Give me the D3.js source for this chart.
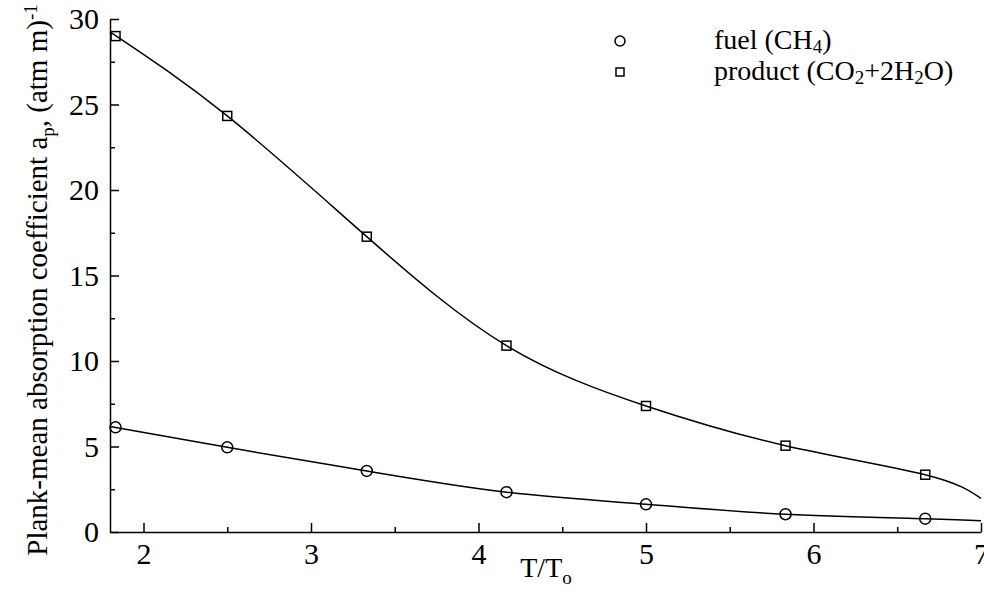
<!DOCTYPE html>
<html><head><meta charset="utf-8">
<script src="https://cdn.jsdelivr.net/npm/d3@7"></script>
<style>
body{margin:0;background:#fff;}
svg text{font-family:"Liberation Serif","Times New Roman",serif;fill:#000;}
</style></head>
<body><svg id="c" width="984" height="592"></svg>
<script>
// data
const ratioT = [1.833, 2.5, 3.333, 4.167, 5, 5.833, 6.667];
const productData = [29.0, 24.33, 17.27, 10.9, 7.37, 5.05, 3.35];
const fuelData = [6.12, 4.95, 3.57, 2.33, 1.62, 1.04, 0.78];
// fitted curve knots
const curveX = [1.8, 2.5, 3.333, 4.167, 5, 5.833, 6.667, 7];
const productCurve = [29.25, 24.33, 17.27, 10.9, 7.37, 5.05, 3.35, 1.97];
const fuelCurve = [6.17, 4.95, 3.57, 2.33, 1.62, 1.04, 0.78, 0.66];
const xTicks = [2, 3, 4, 5, 6, 7];
const xMinor = [2.5, 3.5, 4.5, 5.5, 6.5];
const yTicks = [0, 5, 10, 15, 20, 25, 30];
const yMinor = [2.5, 7.5, 12.5, 17.5, 22.5, 27.5];

const svg = d3.select("#c");
const x = d3.scaleLinear().domain([1.8, 7]).range([110, 981]);
const y = d3.scaleLinear().domain([0, 30]).range([532, 19]);

const fs = 28, tfs = 30, sfs = 19;
const serif = "Liberation Serif";
// x axis
const gx = svg.append("g").attr("transform", `translate(0,${y(0)})`);
gx.call(d3.axisBottom(x).tickValues(xTicks).tickSizeInner(-9).tickSizeOuter(0).tickPadding(11).tickFormat(d3.format("d")));
svg.append("g").attr("transform", `translate(0,${y(0)})`)
  .call(d3.axisBottom(x).tickValues(xMinor).tickSizeInner(-5).tickSizeOuter(0).tickFormat(""))
  .select(".domain").remove();
// y axis
const gy = svg.append("g").attr("transform", `translate(${x(1.8)},0)`);
gy.call(d3.axisLeft(y).tickValues(yTicks).tickSizeInner(-9).tickSizeOuter(0).tickPadding(11).tickFormat(d3.format("d")));
svg.append("g").attr("transform", `translate(${x(1.8)},0)`)
  .call(d3.axisLeft(y).tickValues(yMinor).tickSizeInner(-5).tickSizeOuter(0).tickFormat(""))
  .select(".domain").remove();
svg.selectAll("g").attr("font-family", serif).attr("font-size", tfs);
svg.selectAll(".tick text").attr("font-size", tfs).style("font-family", serif).attr("fill", "#000");
svg.selectAll(".domain, .tick line").attr("stroke", "#000").attr("stroke-width", 1.5);

// curves
const line = d3.line().x(d => x(d[0])).y(d => y(d[1])).curve(d3.curveNatural);
svg.append("path").datum(curveX.map((v, i) => [v, productCurve[i]]))
  .attr("d", line).attr("fill", "none").attr("stroke", "#000").attr("stroke-width", 1.5);
svg.append("path").datum(curveX.map((v, i) => [v, fuelCurve[i]]))
  .attr("d", line).attr("fill", "none").attr("stroke", "#000").attr("stroke-width", 1.5);

// markers
svg.selectAll(".sq").data(ratioT.map((v, i) => [v, productData[i]])).enter().append("rect")
  .attr("x", d => x(d[0]) - 4.5).attr("y", d => y(d[1]) - 4.5).attr("width", 9).attr("height", 9)
  .attr("fill", "none").attr("stroke", "#000").attr("stroke-width", 1.5);
svg.selectAll(".ci").data(ratioT.map((v, i) => [v, fuelData[i]])).enter().append("circle")
  .attr("cx", d => x(d[0])).attr("cy", d => y(d[1])).attr("r", 5.5)
  .attr("fill", "none").attr("stroke", "#000").attr("stroke-width", 1.5);

// legend
const lg = svg.append("g");
lg.append("circle").attr("cx", 620).attr("cy", 41).attr("r", 5).attr("fill", "none").attr("stroke", "#000").attr("stroke-width", 1.5);
lg.append("rect").attr("x", 616).attr("y", 68).attr("width", 8).attr("height", 8).attr("fill", "none").attr("stroke", "#000").attr("stroke-width", 1.5);
const t1 = lg.append("text").attr("x", 714).attr("y", 49).attr("font-size", fs).attr("font-family", serif);
t1.append("tspan").text("fuel (CH");
t1.append("tspan").attr("font-size", sfs).attr("dy", 4).text("4");
t1.append("tspan").attr("dy", -4).text(")");
const t2 = lg.append("text").attr("x", 714).attr("y", 80).attr("font-size", fs).attr("font-family", serif);
t2.append("tspan").text("product (CO");
t2.append("tspan").attr("font-size", sfs).attr("dy", 4).text("2");
t2.append("tspan").attr("dy", -4).text("+2H");
t2.append("tspan").attr("font-size", sfs).attr("dy", 4).text("2");
t2.append("tspan").attr("dy", -4).text("O)");

// axis titles
const xt = svg.append("text").attr("x", 546).attr("y", 577).attr("text-anchor", "middle").attr("font-size", fs).attr("font-family", serif);
xt.append("tspan").text("T/T");
xt.append("tspan").attr("font-size", sfs).attr("dy", 7).text("o");

const yt = svg.append("text").attr("transform", "translate(47,280) rotate(-90)").attr("text-anchor", "middle").attr("font-size", 29).attr("font-family", serif);
yt.append("tspan").text("Plank-mean absorption coefficient a");
yt.append("tspan").attr("font-size", sfs).attr("dy", 7).text("p");
yt.append("tspan").attr("dy", -7).text(", (atm m)");
yt.append("tspan").attr("font-size", sfs).attr("dy", -10).text("-1");
</script></body></html>
